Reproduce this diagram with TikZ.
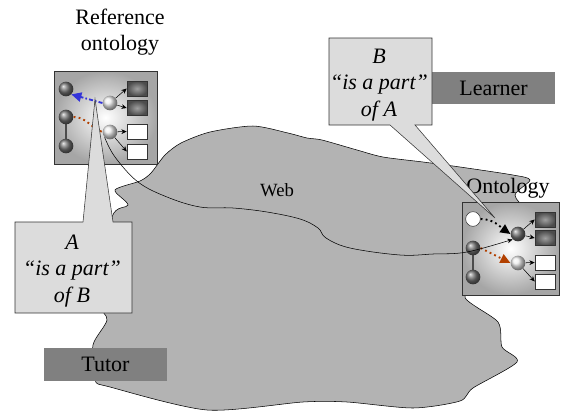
\documentclass[tikz,border=0pt]{standalone}
\usepackage{fontspec}
\setmainfont{Liberation Serif}
\usetikzlibrary{arrows.meta}
\usetikzlibrary{shadings}
\definecolor{cloudgray}{RGB}{179, 179, 179}
\definecolor{calloutgray}{RGB}{220, 220, 220}
\definecolor{rolegray}{RGB}{128, 128, 128}
\definecolor{arcblue}{rgb}{0.2, 0.2, 0.85}
\definecolor{arcred}{rgb}{0.7, 0.25, 0.0}
\tikzset{darkball/.style = {circle, inner sep = 0, minimum size = 11pt, ball color = black!55}}
\tikzset{lightball/.style = {circle, inner sep = 0, minimum size = 11pt, ball color = gray!15}}
\tikzset{whiteball/.style = {circle, inner sep = 0, minimum size = 11pt, fill = white, draw = black!80}}
\tikzset{darksq/.style = {rectangle, inner sep = 0, minimum width = 15pt, minimum height = 11pt,
    draw = black!80, inner color = gray!75, outer color = black!70}}
\tikzset{whitesq/.style = {rectangle, inner sep = 0, minimum width = 15pt, minimum height = 11pt,
    draw = black!80, fill = white}}
\tikzset{ontbox/.style = {draw = black!80, inner color = white, outer color = gray!70}}
\tikzset{role/.style = {fill = rolegray, minimum width = 92pt, minimum height = 24.5pt}}
\tikzset{callout/.style = {draw = black!80, fill = calloutgray}}
\tikzset{link/.style = {-{Stealth[length = 4pt, width = 3.5pt]}}}
\tikzset{bigtip/.style = {-{Triangle[length = 7.5pt, width = 7pt]}}}
\tikzset{dotline/.style = {line width = 1.4pt, dash pattern = on 1.4pt off 2.4pt}}
\tikzset{dashdotline/.style = {line width = 1.4pt, dash pattern = on 3pt off 1.6pt on 1.2pt off 1.6pt}}

\begin{document}
\begin{tikzpicture}[x = 0.75pt, y = -0.75pt, font = \fontsize{16.5}{20}\selectfont]
    \useasboundingbox (0, 0) rectangle (562, 412);

    % the web
    \draw [fill = cloudgray, draw = black] plot [smooth cycle, tension = 0.45] coordinates {
        (115, 190) (140, 181) (151, 173) (165, 155) (181, 143) (210, 132) (253, 126)
        (288, 133) (307, 138) (322, 140) (357, 150) (383, 157) (423, 162) (460, 167)
        (513, 175) (530, 180) (515, 195) (525, 215) (525, 285) (465, 296) (498, 322)
        (502, 347) (517, 362) (473, 388) (460, 401) (413, 408) (347, 402) (303, 402)
        (207, 410) (110, 387) (95, 380) (93, 345) (107, 320) (100, 300) (112, 217)
        (128, 205)};
    \node [font = \fontsize{14}{16}\selectfont] (web) at (277, 190) {Web};

    % reference ontology
    \node [align = center] (refTitle) at (120, 32) {Reference\\ontology};
    \draw [ontbox] (54, 71) rectangle (157, 164);
    \draw [line width = 2pt, black!70] (66, 117) -- (66, 146);
    \node [darkball] (rd1) at (66, 89) {};
    \node [darkball] (rd2) at (66, 117) {};
    \node [darkball] (rd3) at (66, 146) {};
    \node [lightball] (rl1) at (110, 103) {};
    \node [lightball] (rl2) at (110, 132) {};
    \node [darksq] (rs1) at (137, 88.5) {};
    \node [darksq] (rs2) at (137, 108) {};
    \node [whitesq] (rs3) at (137, 131.5) {};
    \node [whitesq] (rs4) at (137, 151.5) {};
    \draw [link] (rl1) -- (rs1.west);
    \draw [link] (rl1) -- (rs2.west);
    \draw [link] (rl2) -- (rs3.west);
    \draw [link] (rl2) -- (rs4.west);
    \draw [arcblue, dashdotline, bigtip] (rl1.west) -- (rd1.south east);
    \draw [arcred, dotline] (rd2.east) to [out = 0, in = 160] (rl2.west);

    % learner ontology
    \node (ontTitle) at (508, 188) {Ontology};
    \draw [ontbox] (462, 202) rectangle (559, 295);
    \draw [line width = 2pt, black!70] (473, 248) -- (473, 277);
    \node [whiteball] (ow) at (473, 219) {};
    \node [darkball] (od1) at (473, 248) {};
    \node [darkball] (od2) at (473, 277) {};
    \node [darkball] (om) at (518, 234) {};
    \node [lightball] (ol) at (518, 263) {};
    \node [darksq] (os1) at (545, 219.5) {};
    \node [darksq] (os2) at (545, 238) {};
    \node [whitesq] (os3) at (545, 262.5) {};
    \node [whitesq] (os4) at (545, 281.5) {};
    \draw [link] (om) -- (os1.west);
    \draw [link] (om) -- (os2.west);
    \draw [link] (ol) -- (os3.west);
    \draw [link] (ol) -- (os4.west);
    \draw [dotline, bigtip] (ow.east) to [out = 0, in = 145] (om.west);
    \draw [arcred, dotline, bigtip] (od1.east) -- (ol.west);

    % transfer over the web
    \draw [link] plot [smooth, tension = 0.6] coordinates {
        (rl2.south west) (115, 157) (138, 182) (167, 197) (200, 207) (233, 208)
        (267, 212) (300, 219) (318, 228) (326, 238) (350, 248) (400, 255)
        (433, 254) (467, 252) (om.south west)};

    % roles
    \node [role] (learner) at (493.5, 88) {Learner};
    \node [role] (tutor) at (105.5, 364.5) {Tutor};

    % callouts
    \coordinate (tipA) at (95, 99);
    \coordinate (tipB) at (495, 218);
    \draw [callout] (15, 222) -- (83, 222) -- (tipA) -- (113, 222) -- (132, 222)
        -- (132, 313) -- (15, 313) -- cycle;
    \node [align = center, font = \fontsize{16.5}{20}\itshape] (partAB) at (72, 271)
        {A\\“is a part”\\of B};
    \draw [callout] (329, 38) -- (432, 38) -- (432, 125) -- (415, 125) -- (tipB)
        -- (390, 125) -- (329, 125) -- cycle;
    \node [align = center, font = \fontsize{16.5}{20}\itshape] (partBA) at (379, 85)
        {B\\“is a part”\\of A};
\end{tikzpicture}
\end{document}
